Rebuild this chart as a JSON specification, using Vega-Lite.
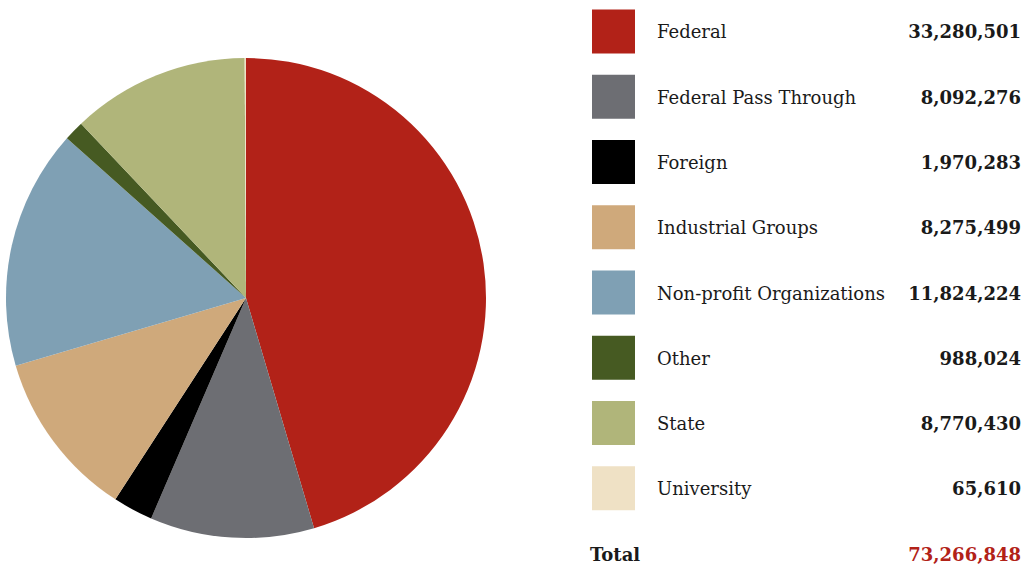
{
  "$schema": "https://vega.github.io/schema/vega-lite/v6.json",
  "padding": 0,
  "autosize": {"type": "pad"},
  "background": "white",
  "spacing": 98,
  "config": {"view": {"stroke": null}, "font": "DejaVu Serif"},
  "datasets": {
    "rows": [
      {"source": "Federal", "value": 33280501, "rank": 1},
      {"source": "Federal Pass Through", "value": 8092276, "rank": 2},
      {"source": "Foreign", "value": 1970283, "rank": 3},
      {"source": "Industrial Groups", "value": 8275499, "rank": 4},
      {"source": "Non-profit Organizations", "value": 11824224, "rank": 5},
      {"source": "Other", "value": 988024, "rank": 6},
      {"source": "State", "value": 8770430, "rank": 7},
      {"source": "University", "value": 65610, "rank": 8},
      {"source": "Total", "value": 73266848, "rank": 9}
    ]
  },
  "data": {"name": "rows"},
  "hconcat": [
    {
      "width": 492,
      "height": 596,
      "transform": [{"filter": "datum.source !== 'Total'"}],
      "mark": {"type": "arc", "outerRadius": 240},
      "encoding": {
        "theta": {"field": "value", "type": "quantitative", "stack": true},
        "order": {"field": "rank", "type": "quantitative"},
        "color": {
          "field": "source", "type": "nominal", "legend": null,
          "scale": {
            "domain": ["Federal", "Federal Pass Through", "Foreign", "Industrial Groups", "Non-profit Organizations", "Other", "State", "University"],
            "range": ["#b22218", "#6d6e73", "#000000", "#cfa97b", "#7fa0b4", "#465a22", "#b0b57a", "#efe1c5"]
          }
        }
      }
    },
    {
      "width": 430,
      "height": 585,
      "encoding": {
        "y": {
          "field": "source", "type": "nominal", "axis": null,
          "scale": {
            "domain": ["Federal", "Federal Pass Through", "Foreign", "Industrial Groups", "Non-profit Organizations", "Other", "State", "University", "Total"],
            "paddingInner": 0.323, "paddingOuter": 0.144
          }
        }
      },
      "layer": [
        {
          "transform": [{"filter": "datum.source !== 'Total'"}],
          "mark": {"type": "rect"},
          "encoding": {
            "x": {"value": 0}, "x2": {"value": 43},
            "color": {
              "field": "source", "type": "nominal", "legend": null,
              "scale": {
                "domain": ["Federal", "Federal Pass Through", "Foreign", "Industrial Groups", "Non-profit Organizations", "Other", "State", "University"],
                "range": ["#b22218", "#6d6e73", "#000000", "#cfa97b", "#7fa0b4", "#465a22", "#b0b57a", "#efe1c5"]
              }
            }
          }
        },
        {
          "transform": [{"filter": "datum.source !== 'Total'"}],
          "mark": {"type": "text", "align": "left", "baseline": "middle", "dy": 2, "fontSize": 18, "color": "#1a1a1a"},
          "encoding": {"x": {"value": 65}, "text": {"field": "source", "type": "nominal"}}
        },
        {
          "transform": [{"filter": "datum.source !== 'Total'"}],
          "mark": {"type": "text", "align": "right", "baseline": "middle", "dy": 2, "fontSize": 18, "fontWeight": "bold", "color": "#1a1a1a"},
          "encoding": {"x": {"value": 429}, "text": {"field": "value", "type": "quantitative", "format": ","}}
        },
        {
          "transform": [{"filter": "datum.source === 'Total'"}],
          "mark": {"type": "text", "align": "left", "baseline": "middle", "dy": 2, "fontSize": 18, "fontWeight": "bold", "color": "#1a1a1a"},
          "encoding": {"x": {"value": -2}, "text": {"field": "source", "type": "nominal"}}
        },
        {
          "transform": [{"filter": "datum.source === 'Total'"}],
          "mark": {"type": "text", "align": "right", "baseline": "middle", "dy": 2, "fontSize": 18, "fontWeight": "bold", "color": "#b22218"},
          "encoding": {"x": {"value": 429}, "text": {"field": "value", "type": "quantitative", "format": ","}}
        }
      ]
    }
  ]
}
